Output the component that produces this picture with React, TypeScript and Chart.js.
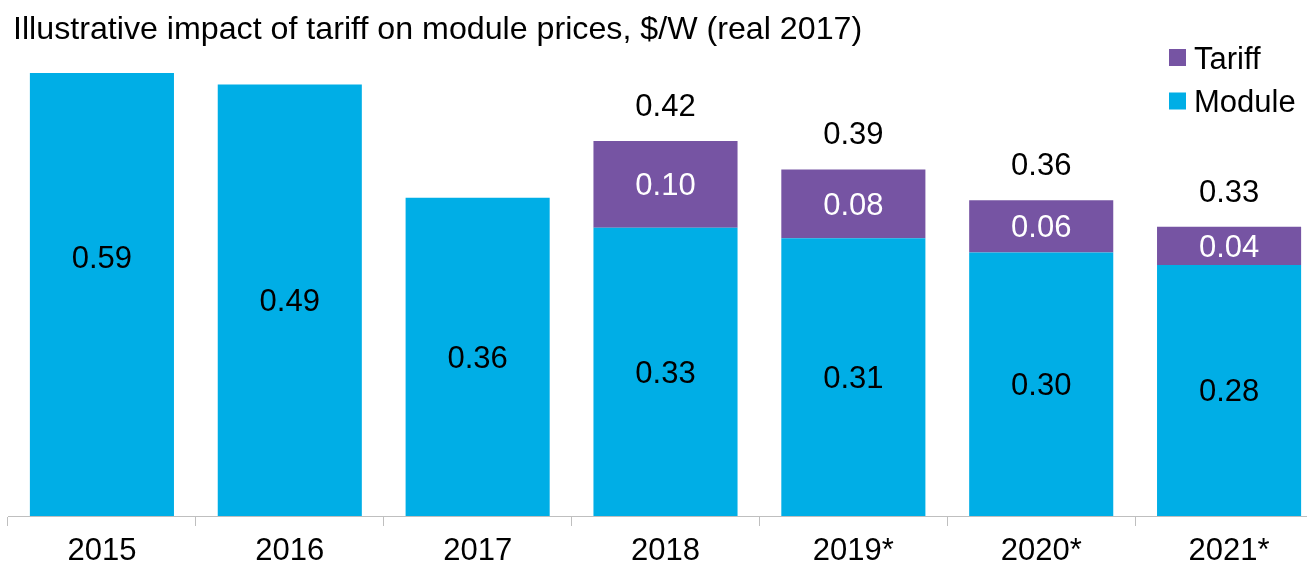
import React, { useEffect, useRef } from 'react';
import { Chart, registerables } from 'chart.js';

Chart.register(...registerables);

const categories = ['2015', '2016', '2017', '2018', '2019*', '2020*', '2021*'];
const moduleValues = [0.586, 0.488, 0.36, 0.326, 0.314, 0.298, 0.284];
const tariffValues: (number | null)[] = [null, null, null, 0.098, 0.078, 0.059, 0.043];
const titleText = 'Illustrative impact of tariff on module prices, $/W (real 2017)';
const legendLabels = ['Tariff', 'Module'];

const MODULE_COLOR = '#00AEE6';
const TARIFF_COLOR = '#7654A3';
const AXIS_COLOR = '#BFBFBF';
const FONT = "'Liberation Sans', Arial, Helvetica, sans-serif";
const TEXT_SHIFT = 2.5;

const labelPlugin = {
  id: 'barLabels',
  afterDatasetsDraw(chart: any) {
    const ctx = chart.ctx as CanvasRenderingContext2D;
    ctx.save();
    ctx.font = `31px ${FONT}`;
    ctx.textAlign = 'center';
    ctx.textBaseline = 'middle';
    chart.data.datasets.forEach((ds: any, di: number) => {
      const meta = chart.getDatasetMeta(di);
      meta.data.forEach((el: any, i: number) => {
        const v = ds.data[i];
        if (v == null) return;
        const { x, y, base } = el.getProps(['x', 'y', 'base'], true);
        ctx.fillStyle = di === 0 ? '#000000' : '#FFFFFF';
        ctx.fillText(v.toFixed(2), x, (y + base) / 2 + TEXT_SHIFT);
      });
    });
    const tMeta = chart.getDatasetMeta(1);
    tMeta.data.forEach((el: any, i: number) => {
      const t = tariffValues[i];
      if (t == null) return;
      const total = moduleValues[i] + t;
      const { x, y } = el.getProps(['x', 'y'], true);
      ctx.fillStyle = '#000000';
      ctx.fillText(total.toFixed(2), x, y - 36 + TEXT_SHIFT);
    });

    // title
    ctx.textAlign = 'left';
    ctx.textBaseline = 'alphabetic';
    ctx.font = `32.2px ${FONT}`;
    ctx.fillStyle = '#000000';
    ctx.fillText(titleText, 13, 39);

    // legend
    const legendColors = [TARIFF_COLOR, MODULE_COLOR];
    ctx.font = `31px ${FONT}`;
    ctx.textBaseline = 'middle';
    legendLabels.forEach((lab, i) => {
      const cy = 57.5 + i * 43.5;
      ctx.fillStyle = legendColors[i];
      ctx.fillRect(1169, cy - 8.5, 17, 17);
      ctx.fillStyle = '#000000';
      ctx.fillText(lab, 1194, cy + TEXT_SHIFT);
    });
    ctx.restore();
  },
};

export default function App() {
  const ref = useRef<HTMLCanvasElement | null>(null);

  useEffect(() => {
    if (!ref.current) return;
    const chart = new Chart(ref.current, {
      type: 'bar',
      data: {
        labels: categories,
        datasets: [
          {
            label: 'Module',
            data: moduleValues,
            backgroundColor: MODULE_COLOR,
            borderWidth: 0,
            barPercentage: 0.767,
            categoryPercentage: 1,
            clip: 0,
          },
          {
            label: 'Tariff',
            data: tariffValues,
            backgroundColor: TARIFF_COLOR,
            borderWidth: 0,
            barPercentage: 0.767,
            categoryPercentage: 1,
            clip: 0,
          },
        ],
      },
      options: {
        animation: false,
        responsive: false,
        devicePixelRatio: 1,
        layout: { padding: { left: 8, right: 8, top: 73, bottom: 0 } },
        plugins: {
          legend: { display: false },
          title: { display: false },
          tooltip: { enabled: false },
        },
        scales: {
          x: {
            stacked: true,
            offset: true,
            afterFit: (s: any) => {
              s.height = 46;
            },
            grid: {
              display: true,
              drawOnChartArea: false,
              drawTicks: true,
              tickLength: 10,
              color: AXIS_COLOR,
              offset: true,
            },
            border: { display: true, color: AXIS_COLOR, width: 1 },
            ticks: {
              color: '#000000',
              font: { family: FONT, size: 31, lineHeight: 1.2 },
              padding: 7,
              maxRotation: 0,
              autoSkip: false,
            },
          },
          y: {
            stacked: true,
            display: false,
            min: 0,
            max: 0.501,
          },
        },
      },
      plugins: [labelPlugin],
    });
    return () => chart.destroy();
  }, []);

  return (
    <div
      style={{
        position: 'fixed',
        left: 0,
        top: 0,
        width: 1307,
        height: 562,
        overflow: 'hidden',
        background: '#FFFFFF',
      }}
    >
      <canvas ref={ref} width={1331} height={562} style={{ display: 'block', width: 1331, height: 562 }} />
    </div>
  );
}
